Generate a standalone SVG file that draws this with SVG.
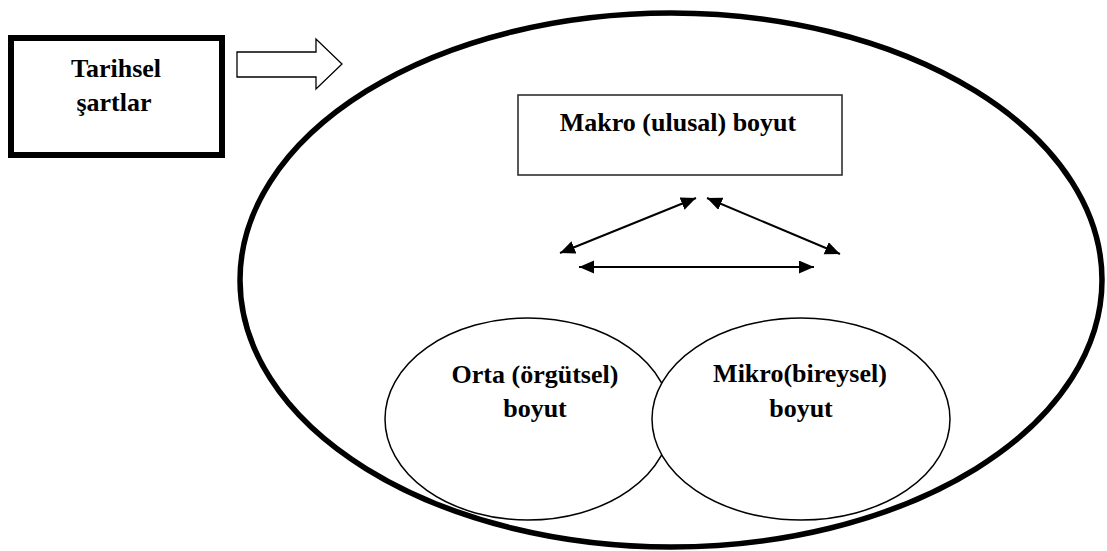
<svg xmlns="http://www.w3.org/2000/svg" width="1107" height="551" viewBox="0 0 1107 551">
<defs>
<style>
.t{font-family:'Liberation Serif',Tinos,'Times New Roman','DejaVu Serif','Noto Serif',serif;font-weight:bold;font-size:26px;fill:#000;text-anchor:middle}
.conn{stroke:#000;stroke-width:2;fill:none;marker-start:url(#ah);marker-end:url(#ah)}
</style>
<marker id="ah" markerUnits="userSpaceOnUse" markerWidth="16" markerHeight="14" refX="15" refY="6.5" orient="auto-start-reverse">
<path d="M0,0 L15,6.5 L0,13 z" fill="#000"/>
</marker>
</defs>
<rect width="1107" height="551" fill="#fff"/>
<g id="outer">
<ellipse cx="671" cy="280" rx="431" ry="267" fill="#fff" stroke="#000" stroke-width="5.5"/>
</g>
<g id="tarihsel">
<rect x="11" y="38" width="211" height="117" fill="#fff" stroke="#000" stroke-width="6"/>
<text class="t" x="116" y="77">Tarihsel</text>
<text class="t" x="114" y="111">şartlar</text>
</g>
<g id="hollow-arrow">
<path d="M237,52 L316,52 L316,39 L342,64 L316,89 L316,77 L237,77 z" fill="#fff" stroke="#000" stroke-width="1.3"/>
</g>
<g id="makro">
<rect x="518" y="95" width="324" height="80" fill="#fff" stroke="#222" stroke-width="1.5"/>
<text class="t" x="678" y="131">Makro (ulusal) boyut</text>
</g>
<g id="connectors">
<line class="conn" x1="560" y1="253" x2="696" y2="198"/>
<line class="conn" x1="707" y1="198" x2="840" y2="254"/>
<line class="conn" x1="579" y1="267" x2="814" y2="267"/>
</g>
<g id="orta">
<ellipse cx="528" cy="419" rx="143" ry="101" fill="#fff" stroke="#000" stroke-width="1.5"/>
<text class="t" x="535" y="383">Orta (örgütsel)</text>
<text class="t" x="535" y="417">boyut</text>
</g>
<g id="mikro">
<ellipse cx="801" cy="419" rx="149" ry="101" fill="#fff" stroke="#000" stroke-width="1.5"/>
<text class="t" x="800" y="382">Mikro(bireysel)</text>
<text class="t" x="801" y="417">boyut</text>
</g>
</svg>
